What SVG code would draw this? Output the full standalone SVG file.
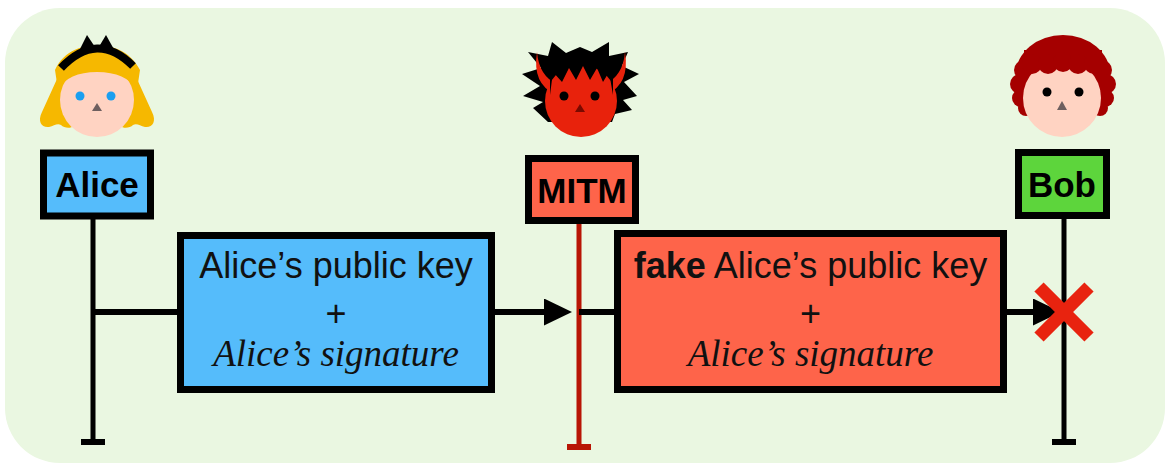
<svg xmlns="http://www.w3.org/2000/svg" width="1167" height="464" viewBox="0 0 1167 464">
  <defs>
    <style>
      .lbl{font-family:"Liberation Sans",Arial,sans-serif;font-weight:bold;font-size:35px;text-anchor:middle;fill:#000}
      .box{stroke:#000;stroke-width:7}
      .msg{font-family:"Liberation Sans",Arial,sans-serif;font-size:36px;text-anchor:middle;fill:#111}
      .sig{font-family:"Liberation Serif","Times New Roman",serif;font-style:italic;font-size:37px;text-anchor:middle;fill:#111}
      .wire{stroke:#000;stroke-width:6;fill:none}
      .life{stroke:#000;stroke-width:5;fill:none}
      .blue{fill:#55BCFB}
      .red{fill:#FE644A}
      .green{fill:#5DD53C}
    </style>
    <marker id="arrow" viewBox="0 0 28 27" refX="1" refY="13.5" markerWidth="28" markerHeight="27" markerUnits="userSpaceOnUse" orient="auto">
      <path d="M0 0 L28 13.5 L0 27 Z" fill="#000"/>
    </marker>
  </defs>

  <!-- panel -->
  <rect x="5" y="8" width="1160" height="455" rx="55" fill="#EAF7E1"/>

  <!-- lifelines and messages -->
  <g id="connectors">
    <line class="life" x1="93" y1="219" x2="93" y2="442"/>
    <rect x="81" y="439" width="24" height="6" fill="#000"/>
    <line class="life" x1="1064" y1="219" x2="1064" y2="442"/>
    <rect x="1052" y="439" width="24" height="6" fill="#000"/>
    <line x1="579" y1="224" x2="579" y2="447" stroke="#B81505" stroke-width="5"/>
    <rect x="567" y="444" width="24" height="6" fill="#B81505"/>

    <line class="wire" x1="93" y1="312" x2="180" y2="312"/>
    <path class="wire" d="M495 312 H545" marker-end="url(#arrow)"/>
    <line class="wire" x1="579" y1="312" x2="617" y2="312"/>
    <path class="wire" d="M1007 312 H1034" marker-end="url(#arrow)"/>

    <!-- blocked delivery -->
    <g stroke="#E8230F" stroke-width="13">
      <line x1="1039" y1="287" x2="1089" y2="337"/>
      <line x1="1089" y1="287" x2="1039" y2="337"/>
    </g>
  </g>

  <!-- Alice -->
  <g id="alice">
    <path fill="#F6B800" d="M62 68 C70 50 85 45 97 45 C109 45 124 50 132 68 L152 112 C157 122 152 128 145 127 C140 126 137 123 133 125 C130 128 124 129 120 126 L74 126 C70 129 64 128 61 125 C57 123 54 126 49 127 C42 128 37 122 42 112 Z"/>
    <circle cx="97" cy="100" r="37" fill="#FFD3C2"/>
    <path fill="#F6B800" d="M58 90 Q68 72 97 72 Q126 72 137 90 L140 70 C130 50 110 45 97 45 C84 45 64 50 55 70 Z"/>
    <path d="M61 68 Q97 30 133 66" fill="none" stroke="#000" stroke-width="8"/>
    <polygon points="78,53 87,35 97,50" fill="#000"/>
    <polygon points="97,50 106,35 116,53" fill="#000"/>
    <circle cx="80" cy="96" r="4.5" fill="#1A9FF0"/>
    <circle cx="111" cy="96" r="4.5" fill="#1A9FF0"/>
    <polygon points="97,103 92,111 102,111" fill="#6E5F5F"/>
    <rect class="box blue" x="43.5" y="153" width="107" height="63"/>
    <text class="lbl" x="97" y="197">Alice</text>
  </g>

  <!-- MITM -->
  <g id="mitm">
    <polygon fill="#000" points="548,122 533,108 543,102 523,96 540,86 522,74 541,68 528,52 548,56 552,42 566,53 580,47 592,52 609,42 609,56 628,52 622,66 639,74 624,82 637,96 623,100 632,110 615,114 612,122"/>
    <path fill="#E8220C" d="M537 52 Q539 76 557 84 L555 94 Q532 84 537 52 Z"/>
    <path fill="#E8220C" d="M625 52 Q623 76 605 84 L607 94 Q630 84 625 52 Z"/>
    <ellipse cx="581" cy="101" rx="36" ry="36" fill="#E8220C"/>
    <polygon fill="#000" points="550,95 553,72 562,82 569,68 576,80 583,66 590,80 597,68 603,82 609,72 613,95 613,58 550,58"/>
    <circle cx="564" cy="96" r="4.5" fill="#000"/>
    <circle cx="595" cy="96" r="4.5" fill="#000"/>
    <polygon points="580,104 575,112 585,112" fill="#7A0A00"/>
    <rect class="box red" x="528.5" y="158.5" width="107" height="62"/>
    <text class="lbl" x="582" y="203">MITM</text>
  </g>

  <!-- Bob -->
  <g id="bob">
    <g fill="#A50000">
      <ellipse cx="1063" cy="74" rx="47" ry="39"/>
      <circle cx="1024" cy="70" r="10"/>
      <circle cx="1020" cy="84" r="10"/>
      <circle cx="1021" cy="98" r="9"/>
      <circle cx="1026" cy="108" r="8"/>
      <circle cx="1102" cy="70" r="10"/>
      <circle cx="1106" cy="84" r="10"/>
      <circle cx="1105" cy="98" r="9"/>
      <circle cx="1100" cy="108" r="8"/>
    </g>
    <circle cx="1062" cy="98" r="39" fill="#FFD3C2"/>
    <g fill="#A50000">
      <rect x="1024" y="50" width="78" height="15"/>
      <circle cx="1032" cy="64" r="10"/>
      <circle cx="1048" cy="64" r="10"/>
      <circle cx="1063" cy="62" r="10"/>
      <circle cx="1078" cy="64" r="10"/>
      <circle cx="1094" cy="64" r="10"/>
    </g>
    <circle cx="1047" cy="92" r="4.5" fill="#000"/>
    <circle cx="1079" cy="92" r="4.5" fill="#000"/>
    <polygon points="1062,101 1057,110 1067,110" fill="#6E5F5F"/>
    <rect class="box green" x="1018.5" y="152.5" width="88" height="63"/>
    <text class="lbl" x="1062" y="197">Bob</text>
  </g>

  <!-- genuine key message -->
  <g id="msg-genuine">
    <rect class="box blue" x="180.5" y="235.5" width="311" height="154"/>
    <text class="msg" x="336" y="278">Alice’s public key</text>
    <text class="msg" x="336" y="326">+</text>
    <text class="sig" x="336" y="366">Alice’s signature</text>
  </g>

  <!-- forged key message -->
  <g id="msg-fake">
    <rect class="box red" x="617.5" y="233.5" width="386" height="156"/>
    <text class="msg" x="810.5" y="278"><tspan font-weight="bold">fake</tspan> Alice’s public key</text>
    <text class="msg" x="810.5" y="326">+</text>
    <text class="sig" x="810.5" y="366">Alice’s signature</text>
  </g>
</svg>
